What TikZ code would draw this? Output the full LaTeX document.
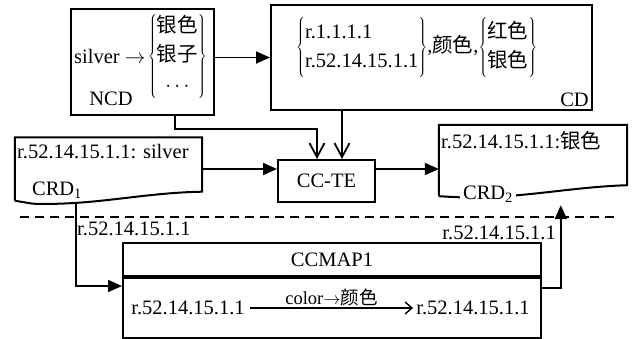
\documentclass[tikz,border=0pt]{standalone}
\usepackage{fontspec}
\setmainfont{Liberation Serif}
\newfontfamily\cjk{Noto Sans CJK SC}
\newcommand{\zh}[1]{{\cjk #1}}
\usetikzlibrary{arrows.meta,positioning,calc}

\begin{document}
\begin{tikzpicture}[x=1pt, y=-1pt,
    font=\fontsize{20.5}{24.6}\selectfont,
    box/.style={draw, line width=2pt, inner sep=0pt},
    txt/.style={inner sep=1pt},
    arr/.style={-{Triangle[length=14pt,width=12pt]}, line width=1.8pt},
    varr/.style={-{Straight Barb[length=14pt,width=15pt]}, line width=1.8pt},
    doc/.style={line width=2pt}
  ]
    \useasboundingbox (0,0) rectangle (633,338);

    % upper part
    \node[box, minimum width=143pt, minimum height=106pt] (ncd) at (142.5,62) {};
    \node[txt, anchor=west] (silver) at (73,56) {silver $\rightarrow$};
    \node[txt, right=0pt of silver] (ncdset) {\renewcommand{\arraystretch}{1.2}$\left\{\begin{tabular}{@{}c@{}}\zh{银色}\\ \zh{银子}\\ $\cdots$\end{tabular}\right\}$};
    \node[txt] (ncdname) at (111,99) {NCD};

    \node[box, minimum width=321pt, minimum height=105pt] (cd) at (431.5,57.5) {};
    \node[txt, anchor=west] (cdset) at (295,47) {\renewcommand{\arraystretch}{1.2}$\left\{\begin{tabular}{@{}l@{}}r.1.1.1.1\\ r.52.14.15.1.1\end{tabular}\right\}$,\zh{颜色},$\left\{\begin{tabular}{@{}c@{}}\zh{红色}\\ \zh{银色}\end{tabular}\right\}$};
    \node[txt, anchor=south east] (cdname) at (590,108) {CD};

    \node[box, minimum width=97pt, minimum height=42pt] (ccte) at (326.5,181) {CC-TE};

    \node[minimum width=187pt, minimum height=63pt, inner sep=0pt] (crd1) at (108.5,169) {};
    \draw[doc] (crd1.south west) -- (crd1.north west) -- (crd1.north east) -- ($(crd1.south east)+(0,-9)$)
      .. controls ($(crd1.south east)+(-60,-8)$) and ($(crd1.south west)+(80,5)$) .. ($(crd1.south west)+(18,3)$)
      -- (crd1.south west);
    \node[txt, anchor=west] (crd1txt) at (16,152) {r.52.14.15.1.1: silver};
    \node[txt] (crd1name) at (57,190) {CRD\textsubscript{1}};

    \node[minimum width=188pt, minimum height=71pt, inner sep=0pt] (crd2) at (533,160.5) {};
    \draw[doc] (crd2.south west) -- (crd2.north west) -- (crd2.north east) -- ($(crd2.south east)+(0,-11)$)
      .. controls ($(crd2.south east)+(-60,-9)$) and ($(crd2.south west)+(80,3)$) .. ($(crd2.south west)+(18,1)$)
      -- (crd2.south west);
    \node[txt, anchor=west] (crd2txt) at (440,141) {r.52.14.15.1.1:\zh{银色}};
    \node[txt, fill=white, inner xsep=3pt] (crd2name) at (488,194) {CRD\textsubscript{2}};

    \draw[arr] (ncd.east |- cd.west) -- (cd.west);
    \coordinate (ccin1) at ($(ccte.north)+(-9.5,0)$);
    \coordinate (ccin2) at ($(ccte.north)+(15.5,0)$);
    \draw[varr] ($(ncd.south east)+(-40,0)$) |- ($(ccin1)+(0,-30)$) -- (ccin1);
    \draw[varr] (cd.south -| ccin2) -- (ccin2);
    \draw[arr] (crd1.east) -- (crd1.east -| ccte.west);
    \draw[arr] (crd1.east -| ccte.east) -- (crd1.east -| crd2.west);

    % lower part
    \draw[line width=1.5pt, dash pattern=on 9pt off 6pt] (20,217) -- (617,217);

    \node[box, minimum width=418pt, minimum height=33pt] (mhead) at (332,259.5) {CCMAP1};
    \node[box, minimum width=418pt, minimum height=60pt, below=0pt of mhead] (mbody) {};
    \node[txt, inner xsep=5pt] (src) at (188,308) {r.52.14.15.1.1};
    \node[txt, inner xsep=3pt] (dst) at (473,308) {r.52.14.15.1.1};
    \draw[-{Straight Barb[length=7pt,width=12pt]}, line width=1.4pt] (src) -- node[above=-2pt, font=\fontsize{18.5}{22}\selectfont] (rule) {color$\rightarrow$\zh{颜色}} (dst);

    \draw[arr] ($(crd1.south west)+(61,3)$) |- ($(mbody.north west)+(0,9)$);
    \node[txt, anchor=west] (inlbl) at (76,229) {r.52.14.15.1.1};
    \draw[arr] ($(mbody.north east)+(0,11)$) -| ($(crd2.south west)+(122,9)$);
    \node[txt, anchor=east] (outlbl) at (557,233) {r.52.14.15.1.1};
  \end{tikzpicture}
\end{document}
